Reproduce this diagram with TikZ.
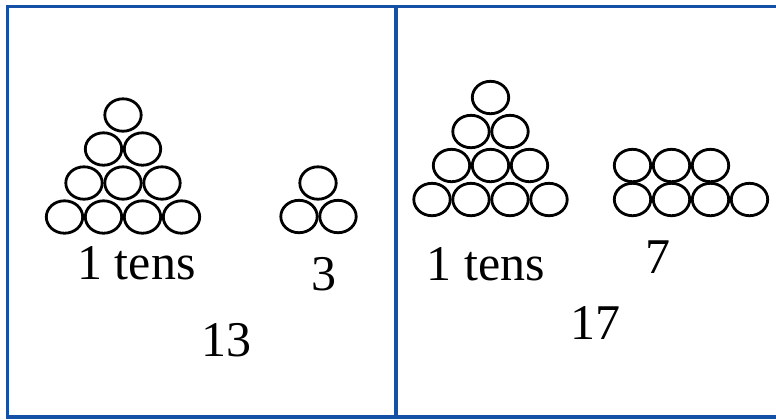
\documentclass[tikz,border=0pt]{standalone}
\usepackage{fontspec}
\setmainfont{Liberation Serif}
\usepackage{tikz}
\usetikzlibrary{shapes.geometric, positioning, calc}

\definecolor{frameblue}{RGB}{20,80,165}

\begin{document}
\begin{tikzpicture}[x=0.5pt, y=-0.5pt]
  % --- STYLE DEFINITIONS ---
  \tikzstyle{bead}=[ellipse, draw=black, line width=1.4pt, minimum width=18.2pt, minimum height=16.2pt, inner sep=0pt]
  \tikzstyle{frame}=[draw=frameblue, line width=1.9pt]
  \tikzstyle{numtext}=[anchor=base, inner sep=0pt, font=\fontsize{25}{30}\selectfont]

  % --- MACRO FOR A PYRAMID OF TEN BEADS ---
  \newcommand{\beadpyramid}[3]{
    \begin{scope}[shift={(#2,#3)}]
      \foreach \r in {0,...,3}
        \foreach \k in {0,...,\r}
          \node[bead] (#1-\r-\k) at ({(\k-\r/2)*39}, {\r*34}) {};
    \end{scope}
  }

  \useasboundingbox (0,0) rectangle (776,419);

  % =================================================================
  % FRAME
  % =================================================================
  \draw[frame] (7.5,6.5) rectangle (396,417);
  \draw[frame] (396,6.5) -- (776,6.5);
  \draw[frame] (396,417) -- (776,417);

  % =================================================================
  % LEFT PANEL: 13
  % =================================================================
  \beadpyramid{tenL}{123}{115}
  \node[bead] (oneL1) at (318,183) {};
  \node[bead] (oneL2) at (299,216.5) {};
  \node[bead] (oneL3) at (338,216.5) {};

  \node[numtext] (tensL) at (136.5,279) {1 tens};
  \node[numtext] (unitsL) at (323.5,290) {3};
  \node[numtext] (totalL) at (226.5,356) {13};

  % =================================================================
  % RIGHT PANEL: 17
  % =================================================================
  \beadpyramid{tenR}{490.5}{97.5}
  \foreach \k in {0,1,2}
    \node[bead] (oneRa\k) at (632.5+\k*39,165.5) {};
  \foreach \k in {0,...,3}
    \node[bead] (oneRb\k) at (632.5+\k*39,199.5) {};

  \node[numtext] (tensR) at (486,280) {1 tens};
  \node[numtext] (unitsR) at (658,273) {7};
  \node[numtext] (totalR) at (595.5,339) {17};

\end{tikzpicture}
\end{document}
